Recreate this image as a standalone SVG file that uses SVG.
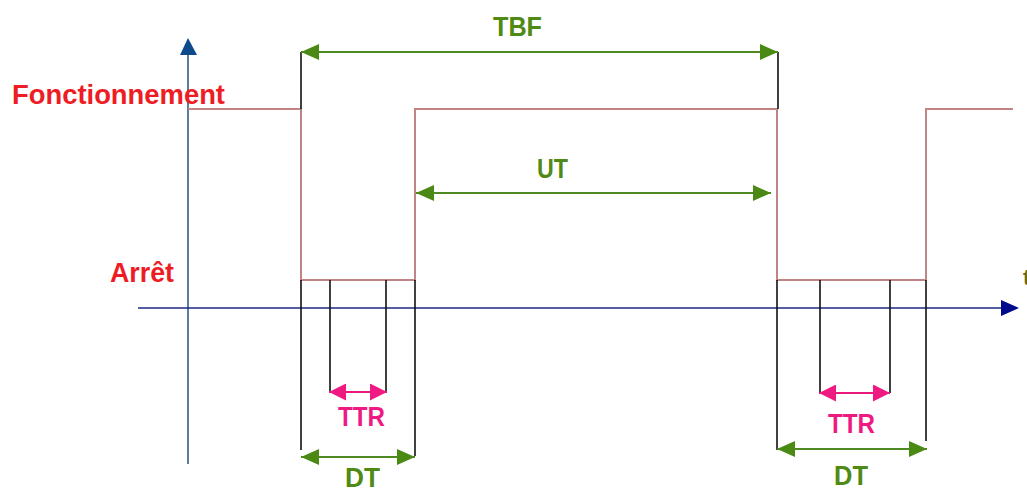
<svg xmlns="http://www.w3.org/2000/svg" width="1027" height="492" viewBox="0 0 1027 492">
<style>
.lbl{font-family:"Liberation Sans",Arial,sans-serif;font-weight:bold;}
.red{fill:#ee1c24;font-size:27px;}
.grn{fill:#4f8a14;font-size:27px;}
.pnk{fill:#ee1a82;font-size:27px;}
.ext{stroke:#111;stroke-width:1.6;fill:none;}
.g{stroke:#4e8a22;stroke-width:2;fill:none;}
.p{stroke:#e8187c;stroke-width:2;fill:none;}
.sig{stroke:#c08484;stroke-width:2;fill:none;}
</style>
<defs>
<marker id="ag" viewBox="0 0 18 16" refX="18" refY="8" markerWidth="18" markerHeight="16" markerUnits="userSpaceOnUse" orient="auto-start-reverse"><path d="M0,0 L18,8 L0,16 Z" fill="#4a8a14"/></marker>
<marker id="ap" viewBox="0 0 17 17" refX="17" refY="8.5" markerWidth="17" markerHeight="17" markerUnits="userSpaceOnUse" orient="auto-start-reverse"><path d="M0,0 L17,8.5 L0,17 Z" fill="#ee1a82"/></marker>
</defs>
<rect width="1027" height="492" fill="#fff"/>
<g id="axes">
<line x1="188" y1="54" x2="188" y2="464" stroke="#2f5f8a" stroke-width="1.6"/>
<path d="M188,38 L197,55 L180,55 Z" fill="#0d4a8c"/>
<line x1="138" y1="308" x2="1002" y2="308" stroke="#1a2a80" stroke-width="1.6"/>
<path d="M1019,308 L1001,300 L1001,316 Z" fill="#000a8c"/>
</g>
<g id="signal">
<polyline class="sig" points="188,109 301,109 301,280 415,280 415,109 777,109 777,280 926,280 926,109 1013,109"/>
</g>
<g id="connectors">
<line class="ext" x1="301" y1="52" x2="301" y2="109"/>
<line class="ext" x1="778" y1="52" x2="778" y2="109"/>
<line class="ext" x1="301" y1="280" x2="301" y2="450"/>
<line class="ext" x1="330" y1="280" x2="330" y2="393"/>
<line class="ext" x1="386" y1="280" x2="386" y2="393"/>
<line class="ext" x1="415" y1="280" x2="415" y2="456"/>
<line class="ext" x1="777" y1="280" x2="777" y2="450"/>
<line class="ext" x1="820" y1="280" x2="820" y2="393"/>
<line class="ext" x1="890" y1="280" x2="890" y2="393"/>
<line class="ext" x1="926" y1="280" x2="926" y2="441"/>
<line class="g" x1="301" y1="52" x2="778" y2="52" marker-start="url(#ag)" marker-end="url(#ag)"/>
<line class="g" x1="416" y1="193" x2="771" y2="193" marker-start="url(#ag)" marker-end="url(#ag)"/>
<line class="g" x1="301" y1="457" x2="415" y2="457" marker-start="url(#ag)" marker-end="url(#ag)"/>
<line class="g" x1="777" y1="449" x2="927" y2="449" marker-start="url(#ag)" marker-end="url(#ag)"/>
<line class="p" x1="329" y1="392" x2="387" y2="392" marker-start="url(#ap)" marker-end="url(#ap)"/>
<line class="p" x1="819" y1="393" x2="890" y2="393" marker-start="url(#ap)" marker-end="url(#ap)"/>
</g>
<g id="label-fonctionnement"><text class="lbl red" x="12" y="104" textLength="213" lengthAdjust="spacingAndGlyphs">Fonctionnement</text></g>
<g id="label-arret"><text class="lbl red" x="110" y="282" textLength="64" lengthAdjust="spacingAndGlyphs">Arrêt</text></g>
<g id="label-tbf"><text class="lbl grn" x="493" y="36" textLength="49" lengthAdjust="spacingAndGlyphs">TBF</text></g>
<g id="label-ut"><text class="lbl grn" x="537" y="178" textLength="31" lengthAdjust="spacingAndGlyphs">UT</text></g>
<g id="label-ttr1"><text class="lbl pnk" x="338" y="426" textLength="47" lengthAdjust="spacingAndGlyphs">TTR</text></g>
<g id="label-dt1"><text class="lbl grn" x="345" y="487" textLength="35" lengthAdjust="spacingAndGlyphs">DT</text></g>
<g id="label-ttr2"><text class="lbl pnk" x="828" y="433" textLength="47" lengthAdjust="spacingAndGlyphs">TTR</text></g>
<g id="label-dt2"><text class="lbl grn" x="834" y="485" textLength="34" lengthAdjust="spacingAndGlyphs">DT</text></g>
<g id="label-t"><text class="lbl" x="1023" y="285" font-size="22" fill="#6a6a20">t</text></g>
</svg>
